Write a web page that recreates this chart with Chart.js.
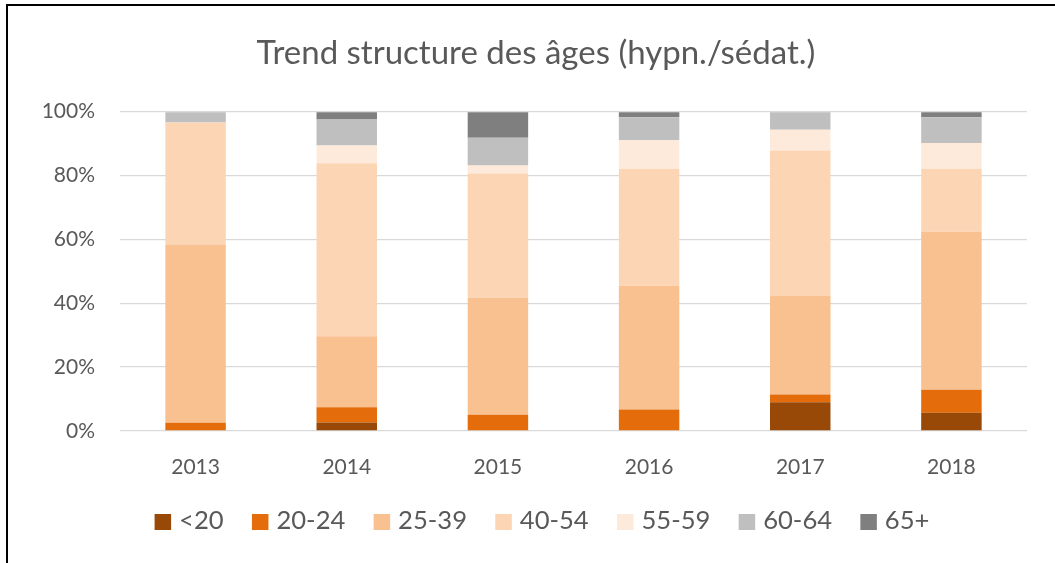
<!DOCTYPE html>
<html>
<head>
<meta charset="utf-8">
<script src="https://cdn.jsdelivr.net/npm/chart.js@4"></script>
<style>
  body { margin: 0; background: #fff; }
  canvas { display: block; }
</style>
</head>
<body>
<canvas id="ageChart" width="1055" height="563"></canvas>
<script>
const years = ['2013', '2014', '2015', '2016', '2017', '2018'];
const ageGroups = ['<20', '20-24', '25-39', '40-54', '55-59', '60-64', '65+'];

// share of each age group per year (%)
const under20 = [0, 2.7, 0, 0, 9.0, 5.7];
const age20to24 = [2.6, 4.7, 5.1, 6.7, 2.4, 7.2];
const age25to39 = [55.8, 22.3, 36.6, 38.8, 31.0, 49.5];
const age40to54 = [38.2, 54.1, 38.9, 36.6, 45.4, 19.7];
const age55to59 = [0, 5.6, 2.5, 8.9, 6.5, 8.1];
const age60to64 = [3.2, 8.1, 8.7, 7.2, 5.5, 8.0];
const age65plus = [0, 2.3, 8.0, 1.6, 0, 1.6];

const yTicks = [0, 20, 40, 60, 80, 100];

const seriesValues = [under20, age20to24, age25to39, age40to54, age55to59, age60to64, age65plus];
const colors = ['#984807', '#E46C0A', '#F9C090', '#FCD5B5', '#FDEADA', '#BFBFBF', '#7F7F7F'];

const textColor = '#595959';
const fontFamily = 'Lato, "Open Sans", sans-serif';

// Excel-like legend: small gap between box and text, centred under the axis
const fixedLegend = {
    id: 'fixedLegend',
    afterDraw(chart, args, opts) {
        const ctx = chart.ctx;
        ctx.save();
        ctx.font = opts.fontSize + 'px ' + fontFamily;
        ctx.textBaseline = 'alphabetic';
        const items = chart.data.datasets.map(ds => ({
            ds: ds,
            w: opts.boxW + opts.gap + ctx.measureText(ds.label).width
        }));
        const total = items.reduce((s, it) => s + it.w, 0) + opts.spacing * (items.length - 1);
        let x = opts.centerX - total / 2;
        items.forEach(it => {
            ctx.fillStyle = it.ds.backgroundColor;
            ctx.fillRect(x, opts.boxTop, opts.boxW, opts.boxH);
            ctx.fillStyle = textColor;
            ctx.fillText(it.ds.label, x + opts.boxW + opts.gap, opts.baseline);
            x += it.w + opts.spacing;
        });
        ctx.restore();
    }
};

// frame lines (top and left) of the original picture, plus title nudge
const frame = {
    id: 'frame',
    afterLayout(chart) {
        // title centred on the whole picture, not on the padded area
        const t = chart.titleBlock;
        t.left += 7.5;
        t.right += 7.5;
    },
    afterDraw(chart) {
        const ctx = chart.ctx;
        ctx.save();
        ctx.fillStyle = '#000';
        ctx.fillRect(6, 4, chart.width - 6, 2);
        ctx.fillRect(6, 4, 2, chart.height - 4);
        ctx.restore();
    }
};

const ageChart = new Chart(document.getElementById('ageChart'), {
    type: 'bar',
    data: {
        labels: years,
        datasets: ageGroups.map((g, i) => ({
            label: g,
            data: seriesValues[i],
            backgroundColor: colors[i],
            borderWidth: 0,
            barPercentage: 0.4,
            categoryPercentage: 1.0
        }))
    },
    options: {
        responsive: false,
        animation: false,
        devicePixelRatio: 1,
        events: [],
        layout: {
            padding: { left: 30, right: 28, top: 0, bottom: 70 }
        },
        plugins: {
            legend: { display: false },
            tooltip: { enabled: false },
            title: {
                display: true,
                text: 'Trend structure des âges (hypn./sédat.)',
                color: textColor,
                font: { family: fontFamily, size: 33, weight: 'normal' },
                padding: { top: 34, bottom: 38 }
            },
            fixedLegend: {
                centerX: 542,
                spacing: 28.3,
                boxTop: 514,
                boxW: 16.5,
                boxH: 16,
                gap: 8,
                baseline: 529.3,
                fontSize: 25.6
            }
        },
        scales: {
            x: {
                stacked: true,
                grid: { display: false },
                border: { display: false },
                ticks: {
                    color: textColor,
                    font: { family: fontFamily, size: 21 },
                    padding: 16
                },
                afterFit(scale) { scale.height = 62; }
            },
            y: {
                stacked: true,
                min: 0,
                max: 100,
                afterBuildTicks(scale) {
                    scale.ticks = yTicks.map(v => ({ value: v }));
                },
                grid: {
                    color: '#D9D9D9',
                    lineWidth: 1.3,
                    drawTicks: false
                },
                border: { display: false },
                ticks: {
                    color: textColor,
                    font: { family: fontFamily, size: 21 },
                    padding: 25,
                    callback: v => v + '%'
                },
                afterFit(scale) { scale.width = 90; }
            }
        }
    },
    plugins: [fixedLegend, frame]
});
</script>
</body>
</html>
